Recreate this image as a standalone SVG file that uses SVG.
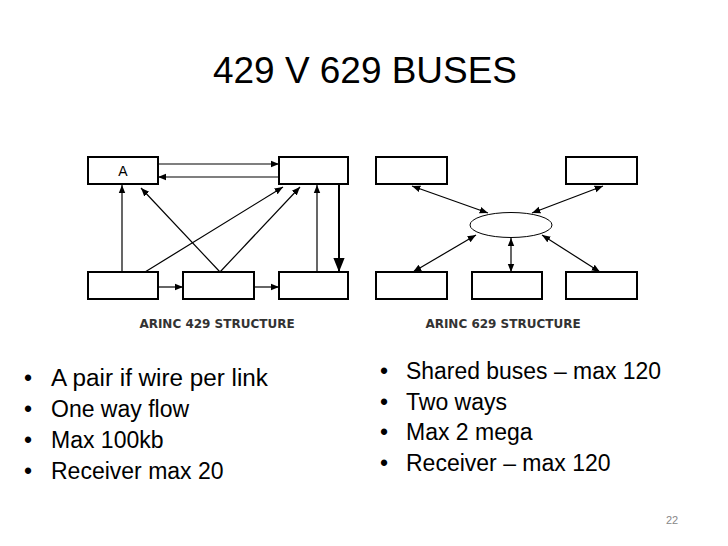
<svg xmlns="http://www.w3.org/2000/svg" width="728" height="546" viewBox="0 0 728 546">
<style>
.b{fill:#fff;stroke:#000;stroke-width:2}
.c line{stroke:#000;stroke-width:1.2}
.t{font-family:"Liberation Sans",Arial,sans-serif;fill:#000}
.lbl{font-family:"DejaVu Sans",sans-serif;font-weight:bold;font-size:12px;fill:#333}
</style>
<defs>
<marker id="a" viewBox="0 0 10 10" refX="10" refY="5" markerWidth="7" markerHeight="7" orient="auto-start-reverse"><path d="M0,1L10,5L0,9z" fill="#000"/></marker>
</defs>
<rect width="728" height="546" fill="#fff"/>
<text class="t" x="365" y="83" font-size="36" text-anchor="middle" textLength="304" lengthAdjust="spacingAndGlyphs">429 V 629 BUSES</text>
<g id="n429A"><rect class="b" x="88" y="157" width="70" height="27"/><text class="t" x="123" y="176" font-size="14" text-anchor="middle">A</text></g>
<g id="n429TR"><rect class="b" x="279" y="157" width="69" height="27"/></g>
<g id="n429BL"><rect class="b" x="88" y="272" width="70" height="27"/></g>
<g id="n429BM"><rect class="b" x="183" y="272" width="71" height="27"/></g>
<g id="n429BR"><rect class="b" x="279" y="272" width="69" height="27"/></g>
<g id="n629TL"><rect class="b" x="376" y="157" width="71" height="27"/></g>
<g id="n629TR"><rect class="b" x="566" y="157" width="71" height="27"/></g>
<g id="n629BL"><rect class="b" x="376" y="272" width="71" height="27"/></g>
<g id="n629BM"><rect class="b" x="472" y="272" width="70" height="27"/></g>
<g id="n629BR"><rect class="b" x="566" y="272" width="71" height="27"/></g>
<g id="bus"><ellipse cx="511" cy="225" rx="41" ry="12.5" fill="#fff" stroke="#000" stroke-width="1"/></g>
<g class="c">
<line x1="158" y1="164" x2="279" y2="164" marker-end="url(#a)"/>
<line x1="279" y1="177" x2="158" y2="177" marker-end="url(#a)"/>
<line x1="122" y1="272" x2="122" y2="185" marker-end="url(#a)"/>
<line x1="220" y1="272" x2="141" y2="188" marker-end="url(#a)"/>
<line x1="145" y1="272" x2="283" y2="187" marker-end="url(#a)"/>
<line x1="220" y1="272" x2="300" y2="187" marker-end="url(#a)"/>
<line x1="317" y1="272" x2="317" y2="185" marker-end="url(#a)"/>
<line x1="339" y1="184" x2="339" y2="272" marker-end="url(#a)" style="stroke-width:2"/>
<line x1="158" y1="287" x2="183" y2="287" marker-end="url(#a)"/>
<line x1="254" y1="287" x2="279" y2="287" marker-end="url(#a)"/>
<line x1="412" y1="186" x2="488" y2="213" marker-start="url(#a)" marker-end="url(#a)"/>
<line x1="603" y1="186" x2="532" y2="213" marker-start="url(#a)" marker-end="url(#a)"/>
<line x1="413" y1="272" x2="476" y2="235" marker-start="url(#a)" marker-end="url(#a)"/>
<line x1="511" y1="238" x2="511" y2="272" marker-start="url(#a)" marker-end="url(#a)"/>
<line x1="600" y1="272" x2="542" y2="235" marker-start="url(#a)" marker-end="url(#a)"/>
</g>
<text class="lbl" x="217" y="328" text-anchor="middle">ARINC 429 STRUCTURE</text>
<text class="lbl" x="503" y="328" text-anchor="middle">ARINC 629 STRUCTURE</text>
<g class="t" font-size="23">
<text x="24" y="386">•</text><text x="51" y="386" textLength="217" lengthAdjust="spacingAndGlyphs">A pair if wire per link</text>
<text x="24" y="417">•</text><text x="51" y="417">One way flow</text>
<text x="24" y="448">•</text><text x="51" y="448">Max 100kb</text>
<text x="24" y="479">•</text><text x="51" y="479">Receiver max 20</text>
<text x="380" y="379">•</text><text x="406" y="379" textLength="255" lengthAdjust="spacingAndGlyphs">Shared buses – max 120</text>
<text x="380" y="410">•</text><text x="406" y="410">Two ways</text>
<text x="380" y="440">•</text><text x="406" y="440">Max 2 mega</text>
<text x="380" y="471">•</text><text x="406" y="471">Receiver – max 120</text>
</g>
<text x="672" y="524" font-size="11" font-family="Liberation Sans,sans-serif" fill="#888" text-anchor="middle">22</text>
</svg>
